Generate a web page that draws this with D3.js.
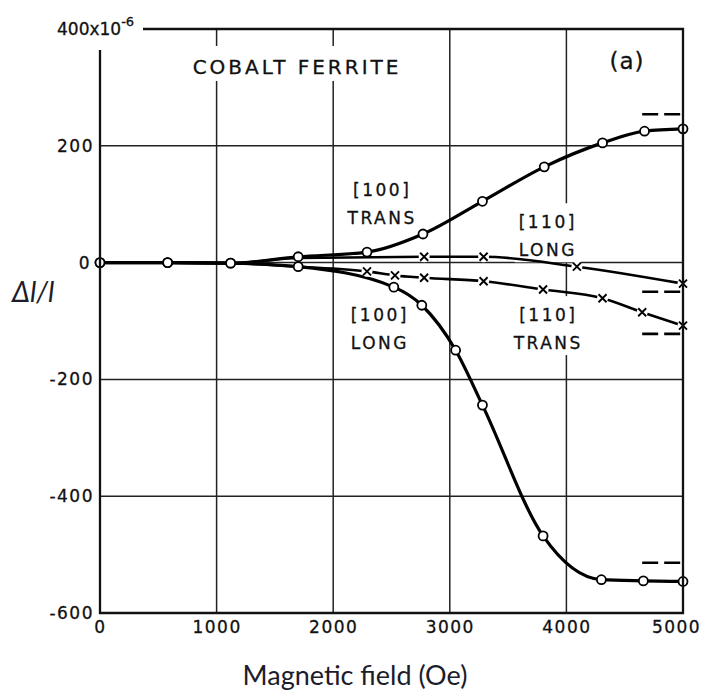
<!DOCTYPE html>
<html lang="en">
<head>
    <meta charset="UTF-8">
    <style>
        body { margin: 0; background: #fff; }
        .note { font-family: "DejaVu Sans", sans-serif; fill: #111; stroke: #111; stroke-width: 0.3; }
        .grid line { stroke: #222; stroke-width: 1.5; }
        .frame { stroke: #111; stroke-width: 2.3; fill: none; }
        .curve { fill: none; stroke: #000; stroke-linejoin: round; }
    </style>
    <script src="https://d3js.org/d3.v7.min.js"></script>
    <title>Cobalt Ferrite Magnetostriction</title>
</head>
<body>
    <svg width="702" height="692"></svg>

    <script>

        // field values (Oe) and strain (x10^-6)
        var field100Trans = [0, 580, 1120, 1700, 2290, 2770, 3280, 3810, 4310, 4670, 5000];
        var strain100Trans = [0, 0, -1, 10, 18, 49, 105, 164, 205, 225, 229];

        var field100Long = [0, 580, 1120, 1700, 2520, 2760, 3050, 3280, 3800, 4300, 4660, 5000];
        var strain100Long = [0, 0, -1, -7, -42, -73, -150, -244, -468, -543, -545, -546];

        var field110Long = [0, 580, 1120, 1700, 2780, 3290, 4090, 5000];
        var strain110Long = [0, 0, -1, 8, 10, 10, -7, -36];

        var field110Trans = [0, 580, 1120, 1700, 2290, 2530, 2780, 3290, 3800, 4310, 4650, 5000];
        var strain110Trans = [0, 0, -1, -7, -15, -22, -26, -32, -46, -61, -85, -108];

        // saturation levels shown as short dashes at the right edge
        var satLevels = [254, -514, -50, -122];
        var satField = [4650, 4990];

        var xTicks = [0, 1000, 2000, 3000, 4000, 5000];
        var yTicks = [-600, -400, -200, 0, 200, 400];

        var svg = d3.select("svg");

        var x = d3.scaleLinear().domain([0, 5000]).range([100, 683]);
        var y = d3.scaleLinear().domain([-600, 400]).range([613, 29]);

        var gridLayer = svg.append("g").attr("class", "grid");
        var maskLayer = svg.append("g");
        var plotLayer = svg.append("g");
        var textLayer = svg.append("g");

        // inner grid lines (edges are drawn as the frame)
        gridLayer.selectAll(".vgrid")
            .data(xTicks.slice(1, -1))
            .enter().append("line")
            .attr("x1", function(d) { return x(d); })
            .attr("x2", function(d) { return x(d); })
            .attr("y1", y(400))
            .attr("y2", y(-600));

        gridLayer.selectAll(".hgrid")
            .data(yTicks.slice(1, -1))
            .enter().append("line")
            .attr("x1", x(0))
            .attr("x2", x(5000))
            .attr("y1", function(d) { return y(d); })
            .attr("y2", function(d) { return y(d); });

        // frame: left side stops short of the top to leave room for the unit label
        svg.append("path")
            .attr("class", "frame")
            .attr("d", "M" + x(0) + "," + (y(400) + 21) + "V" + y(-600) + "H" + x(5000) + "V" + y(400) + "H" + (x(0) + 43));

        function tickStyle(sel) {
            sel.attr("font-family", "DejaVu Sans, sans-serif")
               .attr("font-size", 17)
               .attr("fill", "#111")
               .attr("stroke", "#111")
               .attr("stroke-width", 0.3)
               .style("letter-spacing", "1.5px");
        }

        // axes, used for tick labels only
        var xAxis = svg.append("g")
            .attr("transform", "translate(0," + y(-600) + ")")
            .call(d3.axisBottom(x).tickValues(xTicks).tickSize(0).tickPadding(8).tickFormat(d3.format("d")));
        xAxis.select(".domain").remove();
        xAxis.selectAll("text").call(tickStyle)
            .attr("dx", function(d) { return d === 5000 ? -7 : 0; });

        var yAxis = svg.append("g")
            .attr("transform", "translate(" + x(0) + ",0)")
            .call(d3.axisLeft(y).tickValues(yTicks).tickSize(0).tickPadding(6)
                .tickFormat(function(d) { return d === 400 ? "" : d; }));
        yAxis.select(".domain").remove();
        yAxis.selectAll("text").call(tickStyle)
            .attr("dx", function(d) { return d === 0 ? -3 : 0; });

        // unit label at the top of the y axis
        var unit = svg.append("text")
            .attr("x", 57)
            .attr("y", y(400) + 6)
            .call(tickStyle)
            .style("letter-spacing", "0px");
        unit.append("tspan").text("400x10");
        unit.append("tspan").attr("dy", -9).attr("font-size", 13).text("-6");

        // curves
        var line = d3.line()
            .x(function(d) { return x(d[0]); })
            .y(function(d) { return y(d[1]); })
            .curve(d3.curveMonotoneX);

        var series = [
            { f: field110Long, s: strain110Long, w: 2.6, mark: "x", from: 4 },
            { f: field110Trans, s: strain110Trans, w: 2.6, mark: "x", from: 4 },
            { f: field100Trans, s: strain100Trans, w: 3.2, mark: "o", from: 0 },
            { f: field100Long, s: strain100Long, w: 3.2, mark: "o", from: 0 }
        ];

        series.forEach(function(sr) {
            var pts = sr.f.map(function(f, i) { return [f, sr.s[i]]; });
            plotLayer.append("path")
                .attr("class", "curve")
                .attr("stroke-width", sr.w)
                .attr("d", line(pts));
            sr.pts = pts;
        });

        // markers on top of all curves
        series.forEach(function(sr) {
            var pts = sr.pts.slice(sr.from);
            if (sr.mark === "o") {
                plotLayer.selectAll(null)
                    .data(pts)
                    .enter().append("circle")
                    .attr("cx", function(d) { return x(d[0]); })
                    .attr("cy", function(d) { return y(d[1]); })
                    .attr("r", 4.5)
                    .attr("fill", "#fff")
                    .attr("stroke", "#000")
                    .attr("stroke-width", 1.8);
            } else {
                var g = plotLayer.selectAll(null)
                    .data(pts)
                    .enter().append("g")
                    .attr("transform", function(d) { return "translate(" + x(d[0]) + "," + y(d[1]) + ")"; });
                g.append("circle").attr("r", 5.5).attr("fill", "#fff");
                g.append("path")
                    .attr("d", "M-4,-4L4,4M4,-4L-4,4")
                    .attr("stroke", "#000")
                    .attr("stroke-width", 1.9);
            }
        });

        // saturation dashes
        plotLayer.selectAll(".sat")
            .data(satLevels)
            .enter().append("line")
            .attr("x1", x(satField[0]))
            .attr("x2", x(satField[1]))
            .attr("y1", function(d) { return y(d); })
            .attr("y2", function(d) { return y(d); })
            .attr("stroke", "#000")
            .attr("stroke-width", 2.6)
            .attr("stroke-dasharray", "16,6");

        // annotations: [field, strain] centre, text lines
        var notes = [
            { at: [1690, 335], lines: ["COBALT FERRITE"], size: 20, spacing: 3 },
            { at: [4520, 345], lines: ["(a)"], size: 23, spacing: 1 },
            { at: [2420, 100], lines: ["[100]", "TRANS"], size: 17, spacing: 2.5 },
            { at: [3840, 45], lines: ["[110]", "LONG"], size: 17, spacing: 2.5 },
            { at: [2400, -114], lines: ["[100]", "LONG"], size: 17, spacing: 2.5 },
            { at: [3845, -114], lines: ["[110]", "TRANS"], size: 17, spacing: 2.5 }
        ];

        notes.forEach(function(n) {
            var cx = x(n.at[0]), cy = y(n.at[1]);
            var lineGap = 28;
            var t = textLayer.append("text")
                .attr("class", "note")
                .attr("text-anchor", "middle")
                .style("font-size", n.size + "px")
                .style("letter-spacing", n.spacing + "px");
            n.lines.forEach(function(s, i) {
                t.append("tspan")
                    .attr("x", cx)
                    .attr("y", cy + (i - (n.lines.length - 1) / 2) * lineGap)
                    .attr("dy", "0.35em")
                    .text(s);
            });
            // white patch so grid lines break around the lettering
            var b = t.node().getBBox();
            maskLayer.append("rect")
                .attr("x", b.x - 4)
                .attr("y", b.y - 9)
                .attr("width", b.width + 8)
                .attr("height", b.height + 11)
                .attr("fill", "#fff");
        });

        // axis titles
        svg.append("text")
            .attr("x", 12)
            .attr("y", 302)
            .style("font", "italic 28px Lato, sans-serif")
            .attr("fill", "#1c1c2a")
            .text("Δl/l");

        svg.append("text")
            .attr("x", 355)
            .attr("y", 685)
            .attr("text-anchor", "middle")
            .style("font", "27px Lato, sans-serif")
            .attr("fill", "#1c1c2a")
            .text("Magnetic field (Oe)");

    </script>
</body>
</html>
